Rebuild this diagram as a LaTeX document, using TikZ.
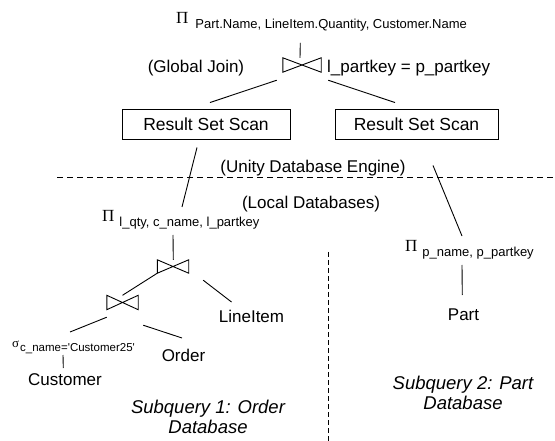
\documentclass[tikz,border=0pt]{standalone}
\usepackage{fontspec}
\setmainfont{Liberation Sans}
\newfontfamily\grk{Liberation Serif}
\newcommand\projop[2]{{\grk\fontsize{17}{17}\selectfont Π}\hspace{#2}\raisebox{-5pt}{\fontsize{13}{13}\selectfont #1}}
\begin{document}
\begin{tikzpicture}[x=1pt,y=-1pt,
  every node/.style={inner sep=0pt, font=\fontsize{17}{20}\selectfont},
  conn/.style={line width=0.9pt},
  joinop/.style={minimum width=31pt, minimum height=13pt, inner sep=0pt},
  scanbox/.style={draw, line width=0.9pt, minimum height=30pt, font=\fontsize{17.5}{20}\selectfont},
  caption/.style={font=\fontsize{18.5}{20.5}\selectfont\itshape, align=center},
  hdash/.style={line width=0.9pt, dash pattern=on 6pt off 4pt},
  vdash/.style={line width=0.9pt, dash pattern=on 5pt off 3pt},
]
\useasboundingbox (0,0) rectangle (555,441);

% nodes
\node[anchor=base west] (pi0) at (176,24) {\projop{Part.Name, LineItem.Quantity, Customer.Name}{7pt}};
\node[joinop, minimum width=38pt, minimum height=14pt] (j0) at (302,65) {};
\node[anchor=base] (gj) at (196,73) {(Global Join)};
\node[anchor=base west] (jc) at (327,73) {l\_partkey = p\_partkey};
\node[scanbox, minimum width=168pt] (box1) at (206,124) {Result Set Scan};
\node[scanbox, minimum width=163pt] (box2) at (416.5,124) {Result Set Scan};
\node[anchor=base] (ue) at (313,173) {(Unity Database Engine)};
\node[anchor=base] (ld) at (311,209) {(Local Databases)};
\node[anchor=base west] (pi1) at (102,222) {\projop{l\_qty, c\_name, l\_partkey}{5pt}};
\node[joinop] (j1) at (173,266.5) {};
\node[joinop, minimum height=14pt] (j2) at (122.5,302.5) {};
\node[anchor=base] (li) at (251.5,323) {LineItem};
\node[anchor=base west] (sig) at (12,347) {{\grk\fontsize{13}{13}\selectfont σ}\hspace{1pt}\raisebox{-4pt}{\fontsize{11.5}{11.5}\selectfont c\_name=\textquotesingle Customer25\textquotesingle}};
\node[anchor=base] (ord) at (183.5,361) {Order};
\node[anchor=base] (cust) at (65,385) {Customer};
\node[caption] (sq1) at (208,417) {Subquery 1: Order\\Database};
\node[anchor=base west] (pi2) at (405,252) {\projop{p\_name, p\_partkey}{5pt}};
\node[anchor=base] (part) at (463.5,320) {Part};
\node[caption] (sq2) at (463,393) {Subquery 2: Part\\Database};

% join symbols
\foreach \j in {j0,j1,j2}
  \draw[conn] (\j.north west) -- (\j.south west) -- (\j.north east) -- (\j.south east) -- cycle;

% connectors
\draw[conn] ([shift={(-2,0)}]j0.north) -- ([shift={(-1.7,-15)}]j0.north);
\draw[conn] ([shift={(-6,8)}]j0.south west) -- ([shift={(4,-6)}]box1.north);
\draw[conn] ([shift={(7,8)}]j0.south east) -- ([shift={(-21.5,-6)}]box2.north);
\draw[conn] ([shift={(-9,8)}]box1.south) -- ([shift={(80,-15)}]pi1.base west);
\draw[conn] ([shift={(16.5,26)}]box2.south) -- ([shift={(57,-16)}]pi2.base west);
\draw[conn] ([shift={(71,13)}]pi1.base west) -- ([shift={(0.3,0)}]j1.north);
\draw[conn] (j1.south west) -- (j2.north);
\draw[conn] ([shift={(14.5,7)}]j1.south east) -- ([shift={(-20,-21)}]li.base);
\draw[conn] ([shift={(0,7.5)}]j2.south west) -- ([shift={(58,-15)}]sig.base west);
\draw[conn] ([shift={(5,15.5)}]j2.south east) -- ([shift={(-1.5,-23)}]ord.base);
\draw[conn] ([shift={(51,8)}]sig.base west) -- ([shift={(-1.7,-17)}]cust.base);
\draw[conn] ([shift={(57,13)}]pi2.base west) -- ([shift={(-1.2,-25)}]part.base);

% separators
\draw[hdash] (57,177) -- (553,177);
\draw[vdash] (328,252) -- (328,441);
\end{tikzpicture}
\end{document}
